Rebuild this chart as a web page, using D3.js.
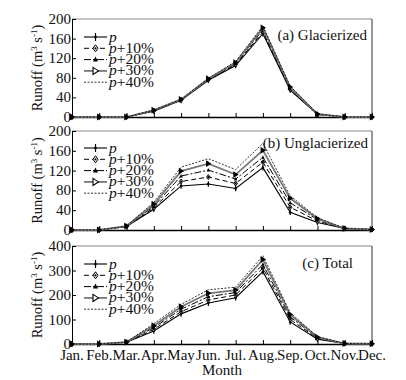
<!DOCTYPE html>
<meta charset="utf-8">
<style>
body { margin: 0; background: #fff; }
text { font-family: "Liberation Serif", "Times New Roman", serif; fill: #111; }
.axis path, .axis line { stroke: #000; }
</style>
<body>
<script src="https://cdn.jsdelivr.net/npm/d3@7"></script>
<script>

// months on the x axis
var months = ["Jan.", "Feb.", "Mar.", "Apr.", "May", "Jun.", "Jul.", "Aug.", "Sep.", "Oct.", "Nov.", "Dec."];
var seriesNames = ["p", "p+10%", "p+20%", "p+30%", "p+40%"];

// (a) glacierized runoff, one array per scenario
var glacP   = [0, 0, 0, 12, 34, 75, 105, 170, 55, 5, 0, 0];
var glacP10 = [0, 0, 0, 13, 35, 76, 107, 174, 57, 5, 0, 0];
var glacP20 = [0, 0, 0, 13, 35, 77, 109, 178, 59, 6, 0, 0];
var glacP30 = [0, 0, 0, 14, 36, 78, 111, 182, 61, 6, 0, 0];
var glacP40 = [0, 0, 0, 14, 36, 79, 113, 186, 63, 7, 0, 0];

// (b) unglacierized runoff
var unglP   = [0, 0, 7, 42, 89, 93, 84, 126, 36, 15, 3, 1];
var unglP10 = [0, 0, 7, 45, 98, 107, 94, 137, 46, 18, 3, 1];
var unglP20 = [0, 0, 7, 48, 109, 121, 103, 147, 55, 21, 3, 1];
var unglP30 = [0, 0, 8, 52, 119, 134, 112, 161, 64, 23, 3, 1];
var unglP40 = [0, 0, 8, 56, 127, 144, 122, 175, 69, 25, 3, 1];

// (c) total runoff
var totP   = [0, 0, 7, 53, 123, 167, 189, 295, 90, 20, 2, 1];
var totP10 = [0, 0, 7, 60, 132, 180, 200, 310, 100, 23, 2, 1];
var totP20 = [0, 0, 7, 67, 142, 193, 210, 325, 110, 26, 2, 1];
var totP30 = [0, 0, 8, 75, 152, 207, 220, 345, 120, 28, 2, 1];
var totP40 = [0, 0, 8, 83, 162, 221, 232, 360, 128, 30, 2, 1];

var yTicksA = [0, 40, 80, 120, 160, 200];
var yTicksC = [0, 100, 200, 300, 400];

var width = 406, height = 380;
var svg = d3.select("body").append("svg")
    .attr("width", width)
    .attr("height", height);

var x = d3.scalePoint().domain(months).range([72, 372]);

// line style for each scenario
var styles = [
  {stroke: "#000", width: 1.1, dash: null, marker: "plus"},
  {stroke: "#000", width: 1, dash: "5,3", marker: "diamond"},
  {stroke: "#000", width: 1, dash: "7,2,2,2", marker: "triangle"},
  {stroke: "#777", width: 1.8, dash: null, marker: "right"},
  {stroke: "#000", width: 0.8, dash: "2,1.5", marker: null}
];

var panels = [
  {title: "(a) Glacierized", top: 19, bottom: 117, max: 200, ticks: yTicksA,
   data: [glacP, glacP10, glacP20, glacP30, glacP40], titleX: 367, titleY: 40, legY: 37},
  {title: "(b) Unglacierized", top: 131, bottom: 230, max: 200, ticks: yTicksA,
   data: [unglP, unglP10, unglP20, unglP30, unglP40], titleX: 368, titleY: 148, legY: 148},
  {title: "(c) Total", top: 246, bottom: 344, max: 400, ticks: yTicksC,
   data: [totP, totP10, totP20, totP30, totP40], titleX: 353, titleY: 268, legY: 264}
];

function drawMarker(g, type, cx, cy, big) {
  var k = big ? 1 : 0.7;
  if (type === "plus") {
    g.append("line").attr("x1", cx).attr("x2", cx).attr("y1", cy - 4 * k).attr("y2", cy + 4 * k)
      .attr("stroke", "#000").attr("stroke-width", 1.2);
    g.append("circle").attr("cx", cx).attr("cy", cy).attr("r", 1.3).attr("fill", "#000");
  } else if (type === "diamond") {
    g.append("path").attr("d", "M" + cx + "," + (cy - 3.5 * k) + "L" + (cx + 2.5 * k) + "," + cy +
        "L" + cx + "," + (cy + 3.5 * k) + "L" + (cx - 2.5 * k) + "," + cy + "Z")
      .attr("fill", "#fff").attr("stroke", "#000").attr("stroke-width", 1);
    g.append("circle").attr("cx", cx).attr("cy", cy).attr("r", 1.1).attr("fill", "#000");
  } else if (type === "triangle") {
    g.append("path").attr("d", "M" + cx + "," + (cy - 3 * k) + "L" + (cx + 2.5 * k) + "," + (cy + 2 * k) +
        "L" + (cx - 2.5 * k) + "," + (cy + 2 * k) + "Z").attr("fill", "#000");
  } else if (type === "right") {
    g.append("path").attr("d", "M" + (cx - 2.5 * k) + "," + (cy - 3.5 * k) + "L" + (cx + 3 * k) + "," + cy +
        "L" + (cx - 2.5 * k) + "," + (cy + 3.5 * k) + "Z")
      .attr("fill", big ? "#fff" : "#000").attr("stroke", "#000").attr("stroke-width", 1.1);
  }
}

panels.forEach(function(p, pi) {
  var y = d3.scaleLinear().domain([0, p.max]).range([p.bottom, p.top]);
  var g = svg.append("g");

  // frame: top border grey, right border dark
  g.append("line").attr("x1", 72).attr("x2", 372).attr("y1", p.top).attr("y2", p.top)
    .attr("stroke", "#888").attr("stroke-width", 1);
  g.append("line").attr("x1", 372).attr("x2", 372).attr("y1", p.top).attr("y2", p.bottom)
    .attr("stroke", "#333").attr("stroke-width", 1);

  // y axis, ticks pointing inward
  g.append("g").attr("class", "axis")
    .attr("transform", "translate(72,0)")
    .call(d3.axisRight(y).tickValues(p.ticks).tickSize(4).tickSizeOuter(0))
    .call(function(a) { a.selectAll("text").remove(); });
  g.selectAll(".ylab").data(p.ticks).enter().append("text")
    .attr("x", 71).attr("y", function(d) { return y(d) + 5; })
    .attr("text-anchor", "end").attr("font-size", 15)
    .text(function(d) { return d; });

  // x axis, ticks pointing up
  g.append("g").attr("class", "axis")
    .attr("transform", "translate(0," + p.bottom + ")")
    .call(d3.axisTop(x).tickSize(4).tickSizeOuter(0))
    .call(function(a) { a.selectAll("text").remove(); })
    .call(function(a) { a.select(".domain").attr("stroke-width", 1.5); });

  if (pi === 2) {
    g.selectAll(".xlab").data(months).enter().append("text")
      .attr("x", function(d) { return x(d); }).attr("y", 360)
      .attr("text-anchor", "middle").attr("font-size", 15)
      .text(function(d) { return d; });
    g.append("text").attr("x", 222).attr("y", 375).attr("text-anchor", "middle")
      .attr("font-size", 15).text("Month");
  }

  // y axis title
  var yl = g.append("text")
    .attr("transform", "translate(42," + ((p.top + p.bottom) / 2) + ") rotate(-90)")
    .attr("text-anchor", "middle").attr("font-size", 14.5);
  yl.append("tspan").text("Runoff (m");
  yl.append("tspan").attr("font-size", 9).attr("dy", -5).text("3");
  yl.append("tspan").attr("dy", 5).text(" s");
  yl.append("tspan").attr("font-size", 9).attr("dy", -5).text("-1");
  yl.append("tspan").attr("dy", 5).text(")");

  // series
  var line = d3.line()
    .x(function(d, i) { return x(months[i]); })
    .y(function(d) { return y(d); });

  p.data.forEach(function(vals, si) {
    var s = styles[si];
    g.append("path").datum(vals)
      .attr("d", line)
      .attr("fill", "none")
      .attr("stroke", s.stroke)
      .attr("stroke-width", s.width)
      .attr("stroke-dasharray", s.dash);
    if (s.marker) {
      vals.forEach(function(v, i) { drawMarker(g, s.marker, x(months[i]), y(v), false); });
    }
  });

  // panel title
  g.append("text").attr("x", p.titleX).attr("y", p.titleY)
    .attr("text-anchor", "end").attr("font-size", 15).text(p.title);

  // legend
  seriesNames.forEach(function(name, si) {
    var s = styles[si];
    var ly = p.legY + si * 11.3;
    g.append("line").attr("x1", 84).attr("x2", 107).attr("y1", ly).attr("y2", ly)
      .attr("stroke", s.stroke).attr("stroke-width", s.width)
      .attr("stroke-dasharray", s.dash);
    if (s.marker) drawMarker(g, s.marker, 95.5, ly, true);
    var t = g.append("text").attr("x", 109).attr("y", ly + 4.5).attr("font-size", 15.5);
    t.append("tspan").attr("font-style", "italic").text("p");
    t.append("tspan").text(name.slice(1));
  });
});

</script>
</body>
